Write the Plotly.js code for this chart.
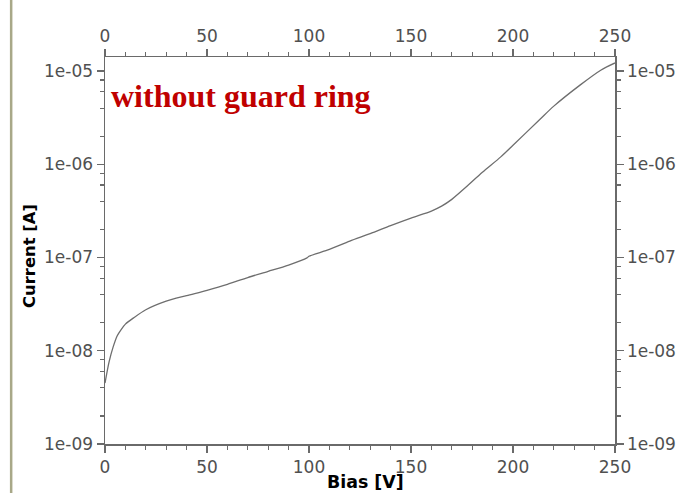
<!DOCTYPE html>
<html>
<head>
<meta charset="utf-8">
<script src="https://cdn.plot.ly/plotly-3.0.1.min.js"></script>
<style>html,body{margin:0;padding:0;background:#fff;}#chart{width:691px;height:493px;}</style>
</head>
<body>
<div id="chart"></div>
<script>
const biasV = [0, 2, 4, 6, 8, 10, 14, 20, 30, 40, 50, 60, 70, 80, 90, 99, 100, 110, 120, 130, 140, 150, 160, 165, 170, 177, 185, 194, 200, 213, 220, 233, 243, 250];
const currentA = [4.5e-9, 7.6e-9, 1.1e-8, 1.45e-8, 1.7e-8, 1.93e-8, 2.25e-8, 2.75e-8, 3.4e-8, 3.9e-8, 4.45e-8, 5.15e-8, 6.1e-8, 7.1e-8, 8.3e-8, 9.9e-8, 1.03e-7, 1.22e-7, 1.5e-7, 1.8e-7, 2.2e-7, 2.65e-7, 3.15e-7, 3.55e-7, 4.2e-7, 5.7e-7, 8.2e-7, 1.2e-6, 1.6e-6, 3.0e-6, 4.2e-6, 7.1e-6, 1.02e-5, 1.22e-5];
const xTicks = [0, 50, 100, 150, 200, 250];
const xMinor = [10,20,30,40,60,70,80,90,110,120,130,140,160,170,180,190,210,220,230,240];
const yTicks = [1e-9, 1e-8, 1e-7, 1e-6, 1e-5];
const yTickText = ['1e-09', '1e-08', '1e-07', '1e-06', '1e-05'];
const yMinor = [];
[-9,-8,-7,-6,-5].forEach(e => [2,4,6,8].forEach(m => { const v = m*Math.pow(10,e); if (v < 1.4e-5) yMinor.push(v); }));
const annotationText = 'without guard ring';
const xTitle = 'Bias [V]';
const yTitle = 'Current [A]';

const tickFont = {family: 'DejaVu Sans', size: 17, color: '#505050'};
const axisCommon = {
  showline: true, linecolor: '#6a6a6a', linewidth: 1.5,
  ticks: 'outside', ticklen: 7, tickcolor: '#6a6a6a', tickwidth: 1.2,
  showgrid: false, zeroline: false, tickfont: tickFont
};
const xRange = [0, 250];
const yRange = [-9, -4.85];
const minorTicks = vals => ({tickmode: 'array', tickvals: vals, ticks: 'outside', ticklen: 4, tickcolor: '#6a6a6a'});

const data = [
  {x: biasV, y: currentA, type: 'scatter', mode: 'lines', line: {color: '#6e6e6e', width: 1.3, shape: 'spline', smoothing: 0.8}, hoverinfo: 'skip', showlegend: false},
  {x: biasV, y: currentA, xaxis: 'x2', yaxis: 'y2', type: 'scatter', mode: 'lines', opacity: 0, hoverinfo: 'skip', showlegend: false}
];

const layout = {
  width: 691, height: 493,
  margin: {l: 105, r: 76, t: 57, b: 49},
  paper_bgcolor: '#fff', plot_bgcolor: '#fff',
  showlegend: false,
  xaxis: Object.assign({}, axisCommon, {
    range: xRange, tickmode: 'array', tickvals: xTicks, ticktext: xTicks.map(String),
    minor: minorTicks(xMinor)
  }),
  xaxis2: Object.assign({}, axisCommon, {
    range: xRange, overlaying: 'x', side: 'top', anchor: 'y',
    tickmode: 'array', tickvals: xTicks, ticktext: xTicks.map(String),
    minor: minorTicks(xMinor)
  }),
  yaxis: Object.assign({}, axisCommon, {
    type: 'log', range: yRange, tickmode: 'array', tickvals: yTicks, ticktext: yTickText,
    minor: minorTicks(yMinor)
  }),
  yaxis2: Object.assign({}, axisCommon, {
    type: 'log', range: yRange, overlaying: 'y', side: 'right', anchor: 'x',
    tickmode: 'array', tickvals: yTicks, ticktext: yTickText,
    minor: minorTicks(yMinor)
  }),
  annotations: [
    {
      text: annotationText, xref: 'paper', yref: 'paper', x: 0.008, y: 0.898,
      xanchor: 'left', yanchor: 'middle', showarrow: false,
      font: {family: 'Liberation Serif', size: 32, color: '#c00000', weight: 'bold'}
    },
    {
      text: xTitle, xref: 'paper', yref: 'paper', x: 0.51, y: -0.098,
      xanchor: 'center', yanchor: 'middle', showarrow: false,
      font: {family: 'DejaVu Sans', size: 17.4, color: '#000', weight: 'bold'}
    },
    {
      text: yTitle, xref: 'paper', yref: 'paper', x: -0.147, y: 0.486, textangle: -90,
      xanchor: 'center', yanchor: 'middle', showarrow: false,
      font: {family: 'DejaVu Sans', size: 16.4, color: '#000', weight: 'bold'}
    }
  ],
  shapes: [{
    type: 'line', xref: 'paper', yref: 'paper', x0: -0.184, x1: -0.184, y0: -0.13, y1: 1.15,
    line: {color: '#a8a888', width: 2.5}
  }]
};

Plotly.newPlot('chart', data, layout, {staticPlot: true, displayModeBar: false});
</script>
</body>
</html>
